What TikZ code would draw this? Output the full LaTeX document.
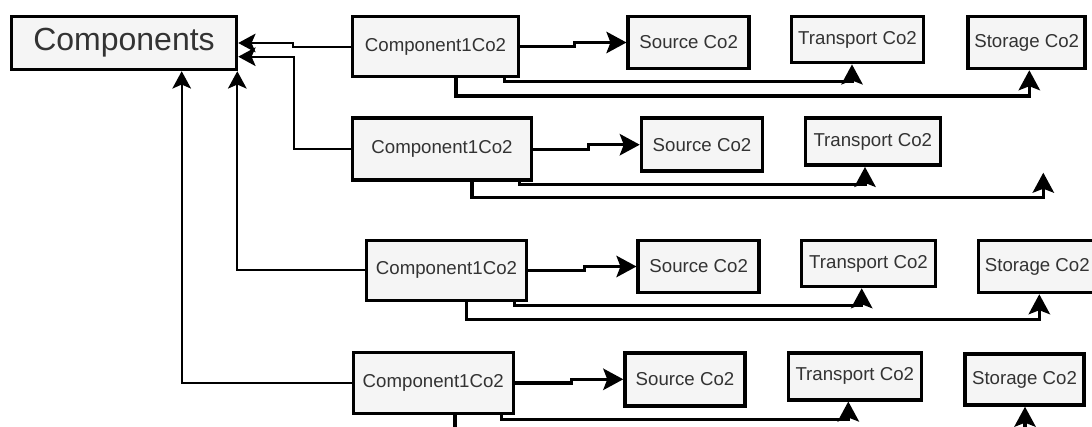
\documentclass[tikz,border=0pt]{standalone}
\usepackage{fontspec}
\setmainfont{Liberation Sans}
\usetikzlibrary{arrows.meta,calc}
\definecolor{boxfill}{HTML}{F5F5F5}
\definecolor{boxtext}{HTML}{333333}
\begin{document}
\begin{tikzpicture}[x=0.75pt,y=-0.75pt,
  box/.style 2 args={draw=black, line width=2.6pt, fill=boxfill, text=boxtext,
    font=\fontsize{14}{16}\selectfont, inner sep=0pt,
    minimum width=#1*0.75pt, minimum height=#2*0.75pt},
  bigbox/.style 2 args={box={#1}{#2}, font=\fontsize{24}{28}\selectfont},
  thinlink/.style={draw=black, line width=1.5pt,
    -{Stealth[length=13pt,width=14pt,inset=3pt]}},
  thicklink/.style={draw=black, line width=2.4pt,
    -{Stealth[length=15pt,width=16pt,inset=3pt]}}
]
\clip (0,0) rectangle (1092,427);
\fill[white] (0,0) rectangle (1092,427);

% ---- main collector
\node[bigbox={225}{53}] (C0) at (124,43) {Components};

% ---- row 1
\node[box={166}{60}] (A1) at (435.5,46.7) {Component1Co2};
\node[box={121}{52}] (S1) at (688.7,42.5) {Source Co2};
\node[box={132}{46}] (T1) at (857.5,39.7) {Transport Co2};
\node[box={117}{52}] (G1) at (1026.7,42.5) {Storage Co2};

% ---- row 2
\node[box={179}{62}] (A2) at (442,149.2) {Component1Co2};
\node[box={121}{53}] (S2) at (702,144.7) {Source Co2};
\node[box={135}{47}] (T2) at (872.8,141.7) {Transport Co2};
\coordinate (X2) at (1043.3,172.7);

% ---- row 3
\node[box={160}{60}] (A3) at (446.5,270.3) {Component1Co2};
\node[box={121}{52}] (S3) at (698.7,266.5) {Source Co2};
\node[box={134}{46}] (T3) at (868.5,263.5) {Transport Co2};
\node[box={118}{52}] (G3) at (1037.3,266.5) {Storage Co2};

% ---- row 4
\node[box={160}{61}] (A4) at (433.3,383) {Component1Co2};
\node[box={120}{53}] (S4) at (685,379.3) {Source Co2};
\node[box={133}{47}] (T4) at (854.8,376.3) {Transport Co2};
\node[box={119}{51}] (G4) at (1024.5,379.5) {Storage Co2};

% ---- links back to Components
\draw[thinlink] (A1.west) -- ++(-57.5,0) |- (C0.east);
\draw[thinlink] (A2.west) -- ++(-57,0) |- ($(C0.east)+(0,13.7)$);
\draw[thinlink] (A3.west) -| ($(C0.south)+(113.3,0)$);
\draw[thinlink] (A4.west) -| ($(C0.south)+(57.7,0)$);

% ---- component to source
\draw[thicklink] (A1.east) -- ++(54.5,0) |- (S1.west);
\draw[thicklink] (A2.east) -- ++(55.5,0) |- (S2.west);
\draw[thicklink] (A3.east) -- ++(56.5,0) |- (S3.west);
\draw[thicklink] (A4.east) -- ++(56.5,0) |- (S4.west);

% ---- component to transport
\draw[thicklink] ($(A1.south east)+(-15.5,0)$) -- ++(0,3.3) -| ($(T1.south)+(-5.5,0)$);
\draw[thicklink] ($(A2.south east)+(-14,0)$) -- ++(0,2.5) -| ($(T2.south)+(-7.8,0)$);
\draw[thicklink] ($(A3.south east)+(-13.5,0)$) -- ++(0,3.7) -| ($(T3.south)+(-6.8,0)$);
\draw[thicklink] ($(A4.south east)+(-13.5,0)$) -- ++(0,4.2) -| ($(T4.south)+(-6.5,0)$);

% ---- component to storage
\draw[thicklink] ($(A1.south)+(20.5,0)$) -- ++(0,17.6) -| ($(G1.south)+(2.6,0)$);
\draw[thicklink] ($(A2.south)+(30,0)$) -- ++(0,15.8) -| (X2);
\draw[thicklink] ($(A3.south)+(20.2,0)$) -- ++(0,17.7) -| ($(G3.south)+(2,0)$);
\draw[thicklink] ($(A4.south)+(21.7,0)$) -- ++(0,18.5) -| ($(G4.south)+(0.5,0)$);
\end{tikzpicture}
\end{document}
